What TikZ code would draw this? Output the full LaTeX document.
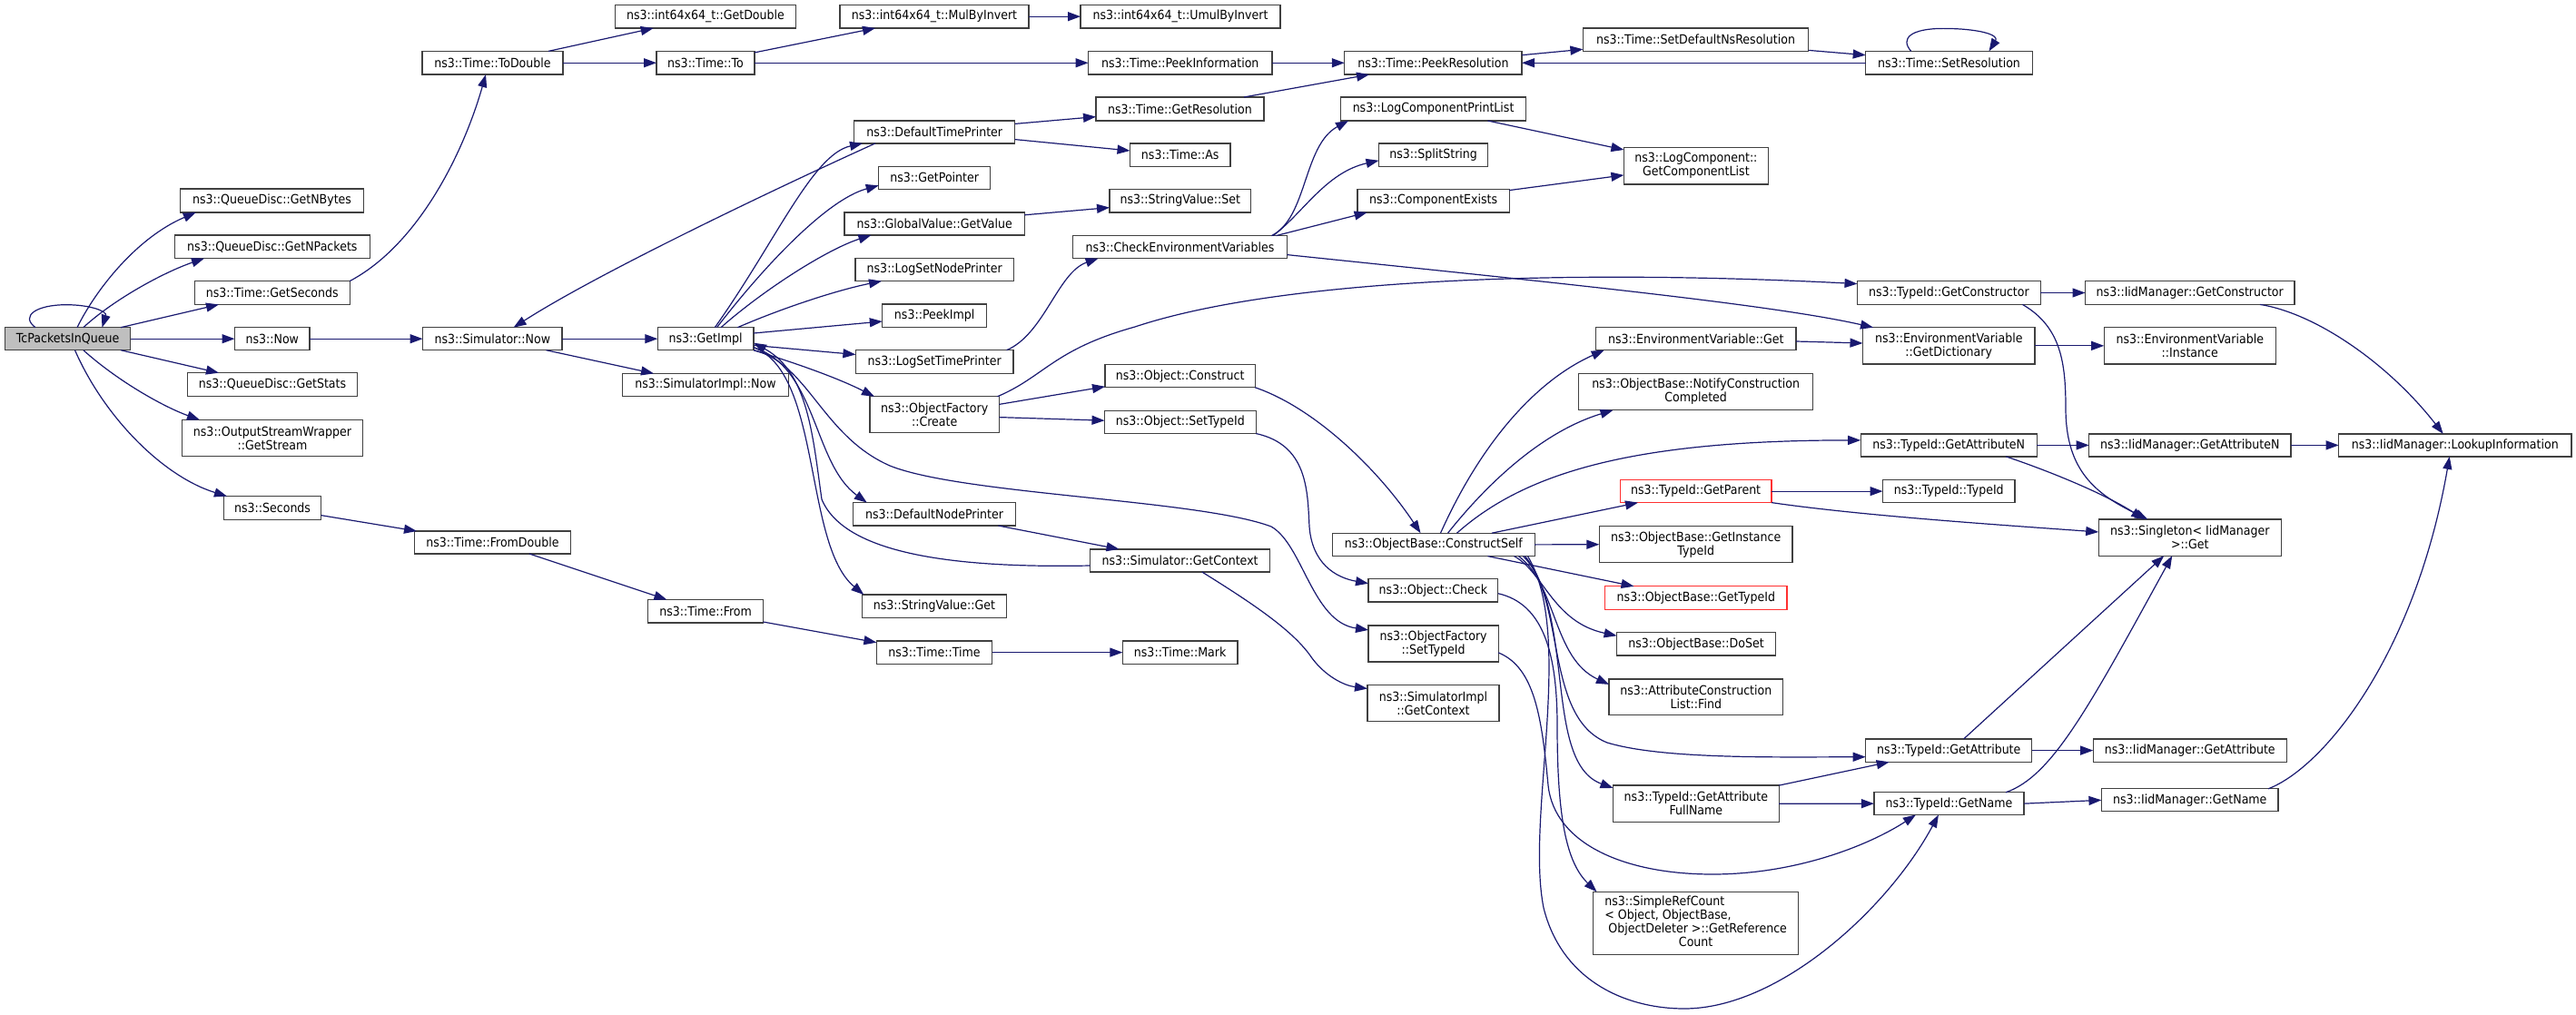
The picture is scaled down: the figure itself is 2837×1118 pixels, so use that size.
\documentclass[tikz,border=0pt]{standalone}
\usepackage{fontspec}
\setmainfont{DejaVu Sans}[FakeStretch=0.9]
\usetikzlibrary{arrows.meta,calc}
\definecolor{navy}{HTML}{191970}
\definecolor{bord}{HTML}{404040}
\definecolor{redb}{HTML}{FF3030}
\definecolor{fillg}{HTML}{BFBFBF}
\newcommand\mkbox[7][]{\node[box,#1,minimum width={(#5-#3)*0.5pt},minimum height={(#6-#4)*0.5pt}] (#2) at ({(#3+#5)/2},{(#4+#6)/2}) {#7};}
\begin{document}
\begin{tikzpicture}[x=0.5pt,y=-0.5pt,
  box/.style={draw=bord,line width=0.65pt,fill=white,inner sep=0pt,outer sep=0pt,align=center,font=\fontsize{7}{7.5}\selectfont},
  redbox/.style={draw=redb},
  e/.style={draw=navy,line width=0.6pt,-{Triangle[length=7pt,width=5pt]}}]
\useasboundingbox (0,0) rectangle (2837,1118);
\fill[white] (0,0) rectangle (2837,1118);
% nodes
\mkbox[fill=fillg]{T}{5.5}{360.7}{143.7}{385.7}{TcPacketsInQueue}
\mkbox{nbytes}{198.8}{208}{400.4}{234}{ns3::QueueDisc::GetNBytes}
\mkbox{npackets}{192.4}{259}{407.3}{284.6}{ns3::QueueDisc::GetNPackets}
\mkbox{getsec}{214.4}{309.6}{385.2}{335.4}{ns3::Time::GetSeconds}
\mkbox{now}{258.5}{360.7}{341.1}{385.7}{ns3::Now}
\mkbox{stats}{206.6}{410.7}{393.5}{436.4}{ns3::QueueDisc::GetStats}
\mkbox{stream}{200.6}{462.5}{399.4}{502.5}{ns3::OutputStreamWrapper\\::GetStream}
\mkbox{seconds}{246.6}{546.6}{353.5}{572.4}{ns3::Seconds}
\mkbox{todouble}{465}{56.4}{620}{82.1}{ns3::Time::ToDouble}
\mkbox{simnow}{465.6}{360.7}{619}{385.7}{ns3::Simulator::Now}
\mkbox{fromdouble}{456.4}{585}{628.6}{610}{ns3::Time::FromDouble}
\mkbox{getdouble}{677.7}{5.4}{876.3}{31}{ns3::int64x64\_t::GetDouble}
\mkbox{timeto}{723}{56.4}{831}{82.1}{ns3::Time::To}
\mkbox{getimpl}{724.3}{360.7}{830}{385.7}{ns3::GetImpl}
\mkbox{simimplnow}{685.5}{411.4}{868.5}{436.4}{ns3::SimulatorImpl::Now}
\mkbox{timefrom}{713.8}{660.5}{840.5}{686}{ns3::Time::From}
\mkbox{mulinv}{925}{5.4}{1133}{31}{ns3::int64x64\_t::MulByInvert}
\mkbox{umulinv}{1190}{5.4}{1410}{31}{ns3::int64x64\_t::UmulByInvert}
\mkbox{peekinfo}{1198.6}{56.4}{1401}{82.1}{ns3::Time::PeekInformation}
\mkbox{getres}{1207}{107}{1392}{133}{ns3::Time::GetResolution}
\mkbox{dtp}{940.6}{132.9}{1117.8}{157.9}{ns3::DefaultTimePrinter}
\mkbox{timeas}{1244.5}{157.9}{1355}{183.2}{ns3::Time::As}
\mkbox{getptr}{967.7}{183.2}{1090.7}{208.2}{ns3::GetPointer}
\mkbox{svset}{1222}{208.2}{1377.7}{234}{ns3::StringValue::Set}
\mkbox{getvalue}{930}{234}{1128.4}{259}{ns3::GlobalValue::GetValue}
\mkbox{checkenv}{1181.6}{259.6}{1417.4}{284.6}{ns3::CheckEnvironmentVariables}
\mkbox{lsnp}{942}{284.6}{1116.4}{309.6}{ns3::LogSetNodePrinter}
\mkbox{peekimpl}{971.8}{335}{1086.6}{360.7}{ns3::PeekImpl}
\mkbox{lstp}{942.4}{385.7}{1116}{411.4}{ns3::LogSetTimePrinter}
\mkbox{create}{958}{436.8}{1100.4}{476.8}{ns3::ObjectFactory\\::Create}
\mkbox{construct}{1217}{401.8}{1382.3}{426.8}{ns3::Object::Construct}
\mkbox{osettid}{1216.5}{452.5}{1383.2}{477.5}{ns3::Object::SetTypeId}
\mkbox{dnp}{939.7}{553.6}{1118.3}{579}{ns3::DefaultNodePrinter}
\mkbox{getctx}{1200.5}{604.9}{1398.8}{630}{ns3::Simulator::GetContext}
\mkbox{svget}{949.3}{655}{1108.6}{680.4}{ns3::StringValue::Get}
\mkbox{timetime}{965.4}{705.9}{1092.6}{731.3}{ns3::Time::Time}
\mkbox{mark}{1236.3}{705.9}{1363}{731.3}{ns3::Time::Mark}
\mkbox{peekres}{1480.8}{56.4}{1676}{82.1}{ns3::Time::PeekResolution}
\mkbox{setdef}{1743.4}{31}{1991.8}{56.4}{ns3::Time::SetDefaultNsResolution}
\mkbox{setres}{2054.7}{56.4}{2238.2}{82.1}{ns3::Time::SetResolution}
\mkbox{lcpl}{1476.7}{107}{1680.5}{133}{ns3::LogComponentPrintList}
\mkbox{split}{1518.5}{157.9}{1638.7}{183.2}{ns3::SplitString}
\mkbox{gcl}{1788.4}{162.5}{1947.3}{202.9}{ns3::LogComponent::\\GetComponentList}
\mkbox{compex}{1495}{208.2}{1662.2}{234}{ns3::ComponentExists}
\mkbox{getctor}{2045.5}{309.6}{2247.4}{335.4}{ns3::TypeId::GetConstructor}
\mkbox{getdict}{2051.5}{360.7}{2241}{401}{ns3::EnvironmentVariable\\::GetDictionary}
\mkbox{envget}{1757.7}{360.7}{1978}{385.7}{ns3::EnvironmentVariable::Get}
\mkbox{notify}{1738.8}{411.4}{1996.4}{451.8}{ns3::ObjectBase::NotifyConstruction\\Completed}
\mkbox{getattrn}{2049.2}{477.9}{2243.3}{502.9}{ns3::TypeId::GetAttributeN}
\mkbox[redbox]{getparent}{1784.3}{528.6}{1951}{553.6}{ns3::TypeId::GetParent}
\mkbox{typeid}{2073.5}{528.6}{2219}{553.6}{ns3::TypeId::TypeId}
\mkbox{iidctor}{2296.5}{309.6}{2527}{335.4}{ns3::IidManager::GetConstructor}
\mkbox{instance}{2317.2}{360.7}{2506.3}{401}{ns3::EnvironmentVariable\\::Instance}
\mkbox{iidattrn}{2300.7}{477.9}{2522.9}{502.9}{ns3::IidManager::GetAttributeN}
\mkbox{lookup}{2575.7}{477.9}{2831.9}{502.9}{ns3::IidManager::LookupInformation}
\mkbox{cself}{1467.5}{587.2}{1690.2}{612.6}{ns3::ObjectBase::ConstructSelf}
\mkbox{instid}{1761.3}{579.8}{1974}{619.6}{ns3::ObjectBase::GetInstance\\TypeId}
\mkbox{check}{1507}{637.7}{1649.8}{663.1}{ns3::Object::Check}
\mkbox[redbox]{gettid}{1767.8}{645.8}{1968}{671.2}{ns3::ObjectBase::GetTypeId}
\mkbox{ofsettid}{1507}{688.9}{1650.2}{729.1}{ns3::ObjectFactory\\::SetTypeId}
\mkbox{doset}{1780.6}{696.7}{1955.5}{722.1}{ns3::ObjectBase::DoSet}
\mkbox{sictx}{1506}{754.5}{1651}{794.3}{ns3::SimulatorImpl\\::GetContext}
\mkbox{find}{1771.9}{747.9}{1963.8}{787.7}{ns3::AttributeConstruction\\List::Find}
\mkbox{getattr}{2054.7}{813.9}{2237.8}{839.3}{ns3::TypeId::GetAttribute}
\mkbox{iidattr}{2305.2}{813.9}{2518.3}{839.3}{ns3::IidManager::GetAttribute}
\mkbox{fullname}{1776.5}{865.1}{1959.2}{905.3}{ns3::TypeId::GetAttribute\\FullName}
\mkbox{getname}{2063.9}{872.8}{2229}{897.5}{ns3::TypeId::GetName}
\mkbox{iidname}{2314.4}{868.8}{2509.1}{893.8}{ns3::IidManager::GetName}
\mkbox{src}{1754.5}{982.3}{1980.8}{1051.6}{\begin{tabular}{@{}l@{}}ns3::SimpleRefCount\\< Object, ObjectBase,\\\ ObjectDeleter >::GetReference\\\multicolumn{1}{@{}c@{}}{Count}\end{tabular}}
\mkbox{singleton}{2311.2}{572}{2512.3}{612.2}{ns3::Singleton< IidManager\\ >::Get}
% edges
\draw[e] ($(T.north west)+(33.5,0)$) .. controls (22,348) and (40,335.7) .. (73,335.7) .. controls (100,335.7) and (118,343) .. ($(T.north west)+(107,0)$);
\draw[e] ($(T.north west)+(79.5,0)$) .. controls (105,320) and (150,262) .. ($(nbytes.south west)+(17,0)$);
\draw[e] ($(T.north west)+(86.3,0)$) .. controls (125,330) and (180,300) .. ($(npackets.south west)+(32.6,0)$);
\draw[e] ($(T.north west)+(127.5,0)$) -- ($(getsec.south west)+(26.6,0)$);
\draw[e] (T.east) -- (now.west);
\draw[e] ($(T.south west)+(127.5,0)$) -- ($(stats.north west)+(34.4,0)$);
\draw[e] ($(T.south west)+(86.3,0)$) .. controls (130,420) and (180,448) .. ($(stream.north west)+(19.4,0)$);
\draw[e] ($(T.south west)+(77,0)$) .. controls (115,460) and (180,525) .. ($(seconds.north west)+(3.4,0)$);
\draw[e] (getsec.north east) .. controls (460,270) and (510,170) .. ($(todouble.south west)+(70,0)$);
\draw[e] ($(todouble.north west)+(139,0)$) -- ($(getdouble.south west)+(42,0)$);
\draw[e] (todouble.east) -- (timeto.west);
\draw[e] ($(timeto.north east)+(0,1.5)$) -- ($(mulinv.south west)+(39,0)$);
\draw[e] (timeto.east) -- (peekinfo.west);
\draw[e] (mulinv.east) -- (umulinv.west);
\draw[e] (peekinfo.east) -- (peekres.west);
\draw[e] ($(getres.north east)+(-22,0)$) -- ($(peekres.south west)+(27.2,0)$);
\draw[e] ($(peekres.north east)+(0,4.3)$) -- ($(setdef.south west)+(0,-2.1)$);
\draw[e] ($(setdef.south east)+(0,-1)$) -- ($(setres.north west)+(0,4.3)$);
\draw[e] (setres.west) -- (peekres.east);
\draw[e] ($(setres.north west)+(50,0)$) .. controls (2092,42) and (2105,31.4) .. (2140,31.4) .. controls (2178,31.4) and (2202,38) .. ($(setres.north west)+(135.8,0)$);
\draw[e] (now.east) -- (simnow.west);
\draw[e] (simnow.east) -- (getimpl.west);
\draw[e] ($(simnow.south east)+(-17.5,0)$) -- ($(simimplnow.north west)+(34.5,0)$);
\draw[e] ($(dtp.south west)+(23.4,0)$) .. controls (860,205) and (660,300) .. ($(simnow.north west)+(100,0)$);
\draw[e] ($(getimpl.north west)+(63,0)$) .. controls (855,265) and (895,170) .. ($(dtp.south west)+(9.4,0)$);
\draw[e] ($(getimpl.north west)+(65.2,0)$) .. controls (840,295) and (910,220) .. ($(getptr.south west)+(0,-3.9)$);
\draw[e] ($(getimpl.north west)+(69.7,0)$) .. controls (840,320) and (910,275) .. ($(getvalue.south west)+(29.4,0)$);
\draw[e] ($(getimpl.north west)+(88,0)$) .. controls (860,340) and (920,320) .. ($(lsnp.south west)+(29,0)$);
\draw[e] ($(getimpl.north east)+(0,6.3)$) -- ($(peekimpl.south west)+(0,-6.7)$);
\draw[e] ($(getimpl.south east)+(0,-5.3)$) -- ($(lstp.north west)+(0,4.8)$);
\draw[e] (getimpl.south east) .. controls (870,398) and (920,415) .. ($(create.north west)+(5,0)$);
\draw[e] ($(getctx.south west)+(0,-7)$) .. controls (1050,626) and (930,610) .. (905,550) .. controls (895,480) and (890,410) .. ($(getimpl.south east)+(0,-8)$);
\draw[e] ($(getimpl.south east)+(0,-3)$) .. controls (900,405) and (895,510) .. ($(dnp.north west)+(15,0)$);
\draw[e] ($(getimpl.south east)+(0,-3)$) .. controls (905,410) and (885,600) .. ($(svget.north west)+(2,0)$);
\draw[e] (getimpl.south east) .. controls (890,400) and (905,480) .. (980,513) .. controls (1060,545) and (1320,550) .. (1400,580) .. controls (1435,600) and (1445,685) .. ($(ofsettid.north west)+(0,5)$);
\draw[e] ($(getctx.south east)+(-75,0)$) .. controls (1380,665) and (1425,695) .. (1445,725) .. controls (1460,745) and (1480,755) .. ($(sictx.north west)+(0,4)$);
\draw[e] ($(dnp.south east)+(-18.9,0)$) -- ($(getctx.north west)+(32,0)$);
\draw[e] ($(seconds.south east)+(0,-4.8)$) -- ($(fromdouble.north west)+(2.6,0)$);
\draw[e] ($(fromdouble.south east)+(-45.6,0)$) -- ($(timefrom.north west)+(20.6,0)$);
\draw[e] ($(timefrom.south east)+(0,-1)$) -- ($(timetime.north west)+(0,1.8)$);
\draw[e] (timetime.east) -- (mark.west);
\draw[e] ($(dtp.north east)+(0,3.5)$) -- ($(getres.south west)+(0,-4.4)$);
\draw[e] ($(dtp.south east)+(0,-4.3)$) -- ($(timeas.north west)+(0,8.1)$);
\draw[e] ($(getvalue.north east)+(0,2.8)$) -- ($(svset.south west)+(0,-5.4)$);
\draw[e] ($(lstp.north east)+(-7.4,0)$) .. controls (1150,368) and (1165,300) .. ($(checkenv.south west)+(28,0)$);
\draw[e] ($(create.north east)+(0,8.6)$) -- ($(construct.south west)+(0,-1)$);
\draw[e] ($(create.north east)+(0,22.8)$) -- ($(osettid.north west)+(0,10.7)$);
\draw[e] ($(create.north east)+(-2,0)$) .. controls (1150,415) and (1160,385) .. (1250,360) .. controls (1400,310) and (1700,295) .. ($(getctor.north west)+(0,3)$);
\draw[e] ($(checkenv.north east)+(-17,0)$) .. controls (1440,240) and (1435,160) .. ($(lcpl.south west)+(8.3,0)$);
\draw[e] ($(checkenv.north east)+(-15.4,0)$) .. controls (1435,235) and (1460,190) .. ($(split.north west)+(0,18.9)$);
\draw[e] ($(checkenv.north east)+(-12,0)$) -- ($(compex.south west)+(10.6,0)$);
\draw[e] ($(checkenv.south east)+(0,-4)$) .. controls (1700,310) and (1950,335) .. ($(getdict.north west)+(11.5,0)$);
\draw[e] ($(lcpl.south east)+(-42,0)$) -- ($(gcl.north west)+(0,2.5)$);
\draw[e] ($(compex.north east)+(0,1.4)$) -- ($(gcl.south west)+(0,-10)$);
\draw[e] (getdict.east) -- (instance.west);
\draw[e] (getctor.east) -- (iidctor.west);
\draw[e] ($(getctor.south east)+(-20,0)$) .. controls (2270,360) and (2275,400) .. (2275,450) .. controls (2275,520) and (2310,545) .. ($(singleton.north west)+(54,0)$);
\draw[e] ($(iidctor.south east)+(-38,0)$) .. controls (2550,345) and (2630,400) .. ($(lookup.north west)+(115,0)$);
\draw[e] (getattrn.east) -- (iidattrn.west);
\draw[e] (iidattrn.east) -- (lookup.west);
\draw[e] ($(getattrn.south east)+(-34,0)$) .. controls (2260,520) and (2320,545) .. ($(singleton.north west)+(50,0)$);
\draw[e] (getparent.east) -- (typeid.west);
\draw[e] (getparent.south east) .. controls (2050,568) and (2200,578) .. ($(singleton.north west)+(0,14)$);
\draw[e] (construct.south east) .. controls (1450,450) and (1520,520) .. ($(cself.north west)+(97,0)$);
\draw[e] (osettid.south east) .. controls (1440,490) and (1440,540) .. (1442,580) .. controls (1445,620) and (1470,636) .. ($(check.north west)+(0,5)$);
\draw[e] ($(cself.north west)+(119,0)$) .. controls (1630,490) and (1690,420) .. ($(envget.south west)+(9,0)$);
\draw[e] ($(cself.north west)+(127,0)$) .. controls (1640,530) and (1700,475) .. ($(notify.south west)+(37.7,0)$);
\draw[e] ($(cself.north west)+(137,0)$) .. controls (1680,520) and (1800,485) .. ($(getattrn.north west)+(0,7)$);
\draw[e] ($(cself.north west)+(175.5,0)$) -- ($(getparent.south west)+(19.7,0)$);
\draw[e] (cself.east) -- (instid.west);
\draw[e] ($(cself.south west)+(171,0)$) -- ($(gettid.north west)+(31.7,0)$);
\draw[e] ($(cself.south west)+(200,0)$) .. controls (1700,630) and (1710,685) .. ($(doset.north west)+(0,3.6)$);
\draw[e] ($(cself.south west)+(205,0)$) .. controls (1715,645) and (1710,725) .. ($(find.north west)+(0,6)$);
\draw[e] ($(cself.south west)+(210,0)$) .. controls (1725,660) and (1700,790) .. (1770,818) .. controls (1830,836) and (1950,834) .. ($(getattr.north west)+(0,19.8)$);
\draw[e] ($(cself.south west)+(212,0)$) .. controls (1735,680) and (1700,840) .. ($(fullname.north west)+(0,2.9)$);
\draw[e] ($(cself.south west)+(215,0)$) .. controls (1735,700) and (1680,900) .. (1700,1000) .. controls (1720,1080) and (1790,1111) .. (1855,1111) .. controls (1960,1111) and (2080,1000) .. ($(getname.south west)+(71,0)$);
\draw[e] ($(ofsettid.north east)+(0,30)$) .. controls (1690,735) and (1698,790) .. (1705,865) .. controls (1712,930) and (1790,963) .. (1886,963) .. controls (1980,963) and (2060,930) .. ($(getname.south west)+(46,0)$);
\draw[e] ($(check.north east)+(0,16)$) .. controls (1700,665) and (1715,720) .. (1715,800) .. controls (1715,900) and (1725,950) .. ($(src.north west)+(4,0)$);
\draw[e] (fullname.north east) -- ($(getattr.south west)+(26,0)$);
\draw[e] (fullname.east) -- (getname.west);
\draw[e] (getattr.east) -- (iidattr.west);
\draw[e] (getname.east) -- (iidname.west);
\draw[e] ($(getattr.north west)+(108,0)$) -- ($(singleton.south west)+(72,0)$);
\draw[e] ($(getname.north east)+(-20,0)$) .. controls (2260,855) and (2300,780) .. ($(singleton.south west)+(81,0)$);
\draw[e] ($(iidname.north east)+(-11,0)$) .. controls (2560,845) and (2660,720) .. ($(lookup.south west)+(122,0)$);
\draw[e] ($(envget.south east)+(0,-9.7)$) -- ($(getdict.north west)+(0,17.3)$);
\end{tikzpicture}
\end{document}
